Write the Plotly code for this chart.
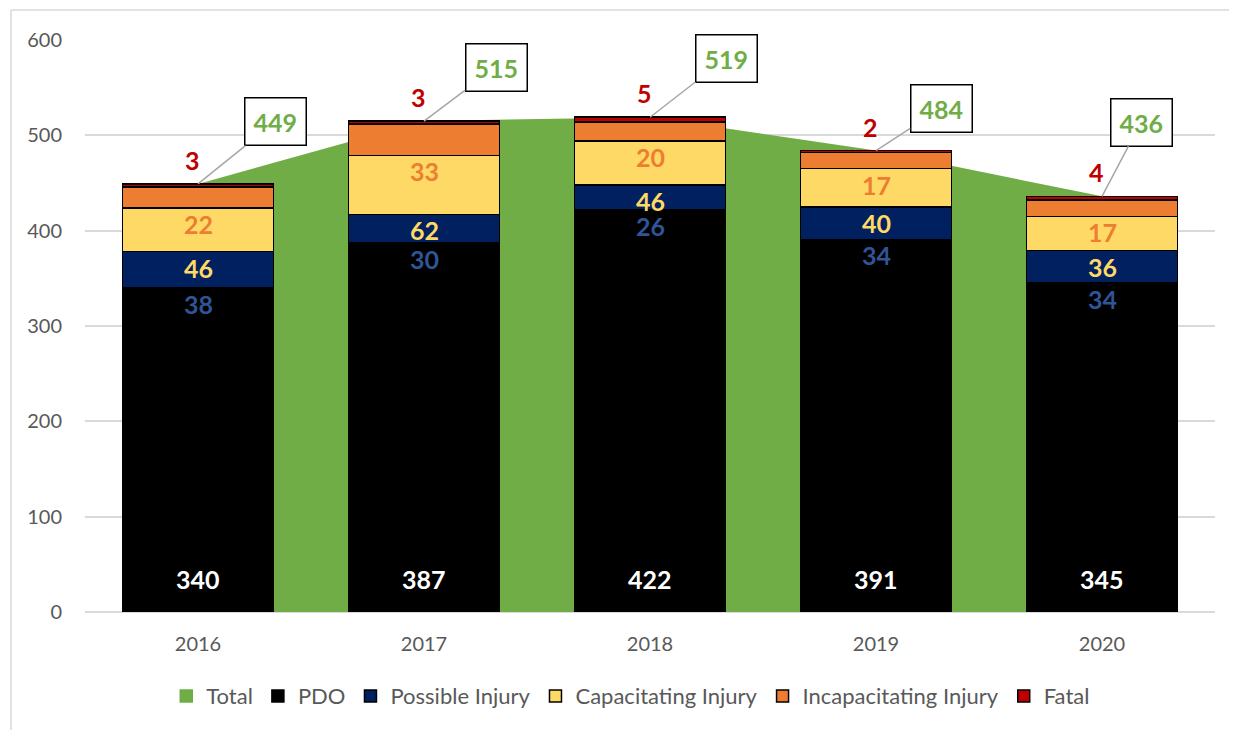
import plotly.graph_objects as go

# --- Données ---
years = ['2016', '2017', '2018', '2019', '2020']
pdo = [340, 387, 422, 391, 345]
possible = [38, 30, 26, 34, 34]
capacitating = [46, 62, 46, 40, 36]
incapacitating = [22, 33, 20, 17, 17]
fatal = [3, 3, 5, 2, 4]
total = [449, 515, 519, 484, 436]

FONT = 'Lato'
GRID = '#D9D9D9'
GREEN = '#70AD47'

fig = go.Figure()

# aire "Total" sur les axes de base (dessinée sous les barres)
fig.add_trace(go.Scatter(
    x=years, y=total, name='Total', mode='lines', fill='tozeroy',
    fillcolor=GREEN, line=dict(width=0, color=GREEN),
    xaxis='x', yaxis='y', showlegend=False
))
# entrée de légende carrée pour Total
fig.add_trace(go.Bar(
    x=[None], y=[None], name='Total', xaxis='x2', yaxis='y2',
    marker=dict(color=GREEN, line=dict(color=GREEN, width=1.5))
))

series = [
    ('PDO', pdo, '#000000'),
    ('Possible Injury', possible, '#002060'),
    ('Capacitating Injury', capacitating, '#FFD966'),
    ('Incapacitating Injury', incapacitating, '#ED7D31'),
    ('Fatal', fatal, '#C00000'),
]
for name, vals, col in series:
    fig.add_trace(go.Bar(
        x=years, y=vals, name=name, xaxis='x2', yaxis='y2',
        marker=dict(color=col, line=dict(color='#000000', width=1.5)),
    ))

# --- étiquettes (x = index de catégorie) ---
label_font = dict(family=FONT, size=25)
bases = [0] * len(years)
label_colors = ['#FFFFFF', '#2F5597', '#FFD966', '#ED7D31']
for k, (name, vals, col) in enumerate(series[:4]):
    for i in range(len(years)):
        if k == 0:
            y, shift = 0, 33
        else:
            y, shift = bases[i], -16
        fig.add_annotation(
            x=i, y=y, xref='x2', yref='y2', text=f'<b>{vals[i]}</b>',
            showarrow=False, yshift=shift,
            font=dict(label_font, color=label_colors[k])
        )
        bases[i] += vals[i]

# Fatal au-dessus des barres
for i in range(len(years)):
    fig.add_annotation(
        x=i, y=total[i], xref='x2', yref='y2', text=f'<b>{fatal[i]}</b>',
        showarrow=False, yshift=24, xshift=-6,
        font=dict(label_font, color='#C00000')
    )

# Totaux en encadré avec trait de rappel
offsets = [(77, -62), (72, -54), (76, -59), (65, -42), (39, -74)]
for i in range(len(years)):
    ax, ay = offsets[i]
    fig.add_annotation(
        x=i, y=total[i], xref='x2', yref='y2', text=f'<b>{total[i]}</b>',
        showarrow=True, arrowhead=0, arrowwidth=1.5, arrowcolor='#A6A6A6',
        ax=ax, ay=ay, standoff=0,
        bgcolor='#FFFFFF', bordercolor='#000000', borderwidth=1.5, borderpad=8,
        font=dict(label_font, color=GREEN)
    )

# cadre gris du graphique (la page a une marge de 8 px)
px0, py0, pw, ph = 77, 32, 1130, 572
fig.add_shape(type='line', xref='paper', yref='paper',
              x0=(3 - px0) / pw, x1=(1240 - px0) / pw,
              y0=(py0 + ph - 2) / ph, y1=(py0 + ph - 2) / ph,
              line=dict(color=GRID, width=1.5))
fig.add_shape(type='line', xref='paper', yref='paper',
              x0=(3 - px0) / pw, x1=(3 - px0) / pw,
              y0=(py0 + ph - 2) / ph, y1=-0.3,
              line=dict(color=GRID, width=1.5))

fig.update_layout(
    width=1229, height=722,
    barmode='stack', bargap=0.33,
    plot_bgcolor='#FFFFFF', paper_bgcolor='#FFFFFF',
    font=dict(family=FONT, color='#595959'),
    margin=dict(l=77, r=22, t=32, b=118),
    xaxis=dict(
        type='category', range=[-0.5, 4.5], showgrid=False, showline=False,
        ticks='', ticklabelstandoff=18, tickfont=dict(size=20, color='#595959')
    ),
    yaxis=dict(
        range=[0, 600], dtick=100, showgrid=True, gridcolor=GRID, gridwidth=1.5,
        zeroline=True, zerolinecolor=GRID, zerolinewidth=1.5,
        ticks='', ticklabelstandoff=22, tickfont=dict(size=20, color='#595959')
    ),
    xaxis2=dict(type='category', range=[-0.5, 4.5], overlaying='x',
                visible=False),
    yaxis2=dict(range=[0, 600], overlaying='y', visible=False),
    legend=dict(
        orientation='h', x=0.483, xanchor='center', y=-0.147, yanchor='middle',
        font=dict(size=22, color='#595959'), traceorder='normal',
        itemwidth=30
    ),
)

fig.write_html('out.html')
